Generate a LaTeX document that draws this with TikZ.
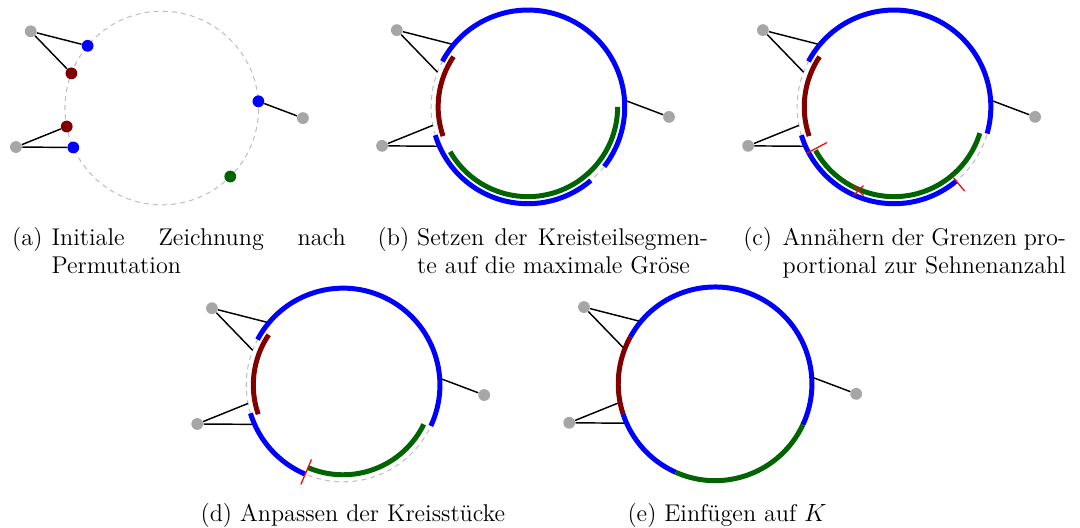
\documentclass[tikz,border=0pt]{standalone}
\usepackage{tikz}
\usetikzlibrary{arrows.meta}

\definecolor{segblue}{RGB}{0,0,255}
\definecolor{segred}{RGB}{128,0,0}
\definecolor{seggreen}{RGB}{0,100,0}

\begin{document}
\begin{tikzpicture}[scale=1.0,
  vtx/.style={circle, fill, inner sep=0pt, minimum size=0.2cm},
  hub/.style={vtx, black!35},
  kreis/.style={black!25, line width=0.5pt, dash pattern=on 2.4pt off 2pt},
  seg/.style={line width=2.4pt},
  sehne/.style={line width=0.7pt},
  grenze/.style={red, line width=0.6pt},
  capt/.style={anchor=base west, inner sep=0pt, font=\fontsize{11.66}{13.5}\selectfont}]
  \useasboundingbox (0,0) rectangle (18.29,8.94);

  % (a) initial drawing
  \begin{scope}[shift={(2.74,7.11)}]
    \draw[kreis] (0,0) circle (1.64);
    \node[hub] (a-g1) at (-2.22,1.30) {};
    \node[hub] (a-g2) at (-2.47,-0.66) {};
    \node[hub] (a-g3) at (2.39,-0.17) {};
    \node[vtx, segblue] (a-v1) at (140:1.64) {};
    \node[vtx, segred] (a-v2) at (159:1.64) {};
    \node[vtx, segred] (a-v3) at (191:1.64) {};
    \node[vtx, segblue] (a-v4) at (204:1.64) {};
    \node[vtx, segblue] (a-v5) at (4:1.64) {};
    \node[vtx, seggreen] (a-v6) at (315:1.64) {};
    \draw[sehne] (a-g1) -- (a-v1);
    \draw[sehne] (a-g1) -- (a-v2);
    \draw[sehne] (a-g2) -- (a-v3);
    \draw[sehne] (a-g2) -- (a-v4);
    \draw[sehne] (a-g3) -- (a-v5);
  \end{scope}
  \node[capt] (cap-a) at (0.20,4.79) {\makebox[19pt][l]{(a)}\parbox[t]{141.7pt}{\makebox[141.7pt][s]{Initiale Zeichnung nach}\\Permutation}};

  % (b) maximal segments
  \begin{scope}[shift={(8.94,7.13)}]
    \draw[kreis] (0,0) circle (1.64);
    \node[hub] (b-g1) at (-2.22,1.30) {};
    \node[hub] (b-g2) at (-2.47,-0.66) {};
    \node[hub] (b-g3) at (2.39,-0.17) {};
    \coordinate (b-v1) at (140:1.64);
    \coordinate (b-v2) at (159:1.64);
    \coordinate (b-v3) at (191:1.64);
    \coordinate (b-v4) at (204:1.64);
    \coordinate (b-v5) at (4:1.64);
    \draw[sehne] (b-g1) -- (b-v1);
    \draw[sehne] (b-g1) -- (b-v2);
    \draw[sehne] (b-g2) -- (b-v3);
    \draw[sehne] (b-g2) -- (b-v4);
    \draw[sehne] (b-g3) -- (b-v5);
    \draw[seg, segblue] (152:1.64) arc[start angle=152, end angle=-38, radius=1.64];
    \draw[seg, segblue] (197:1.64) arc[start angle=197, end angle=310.5, radius=1.64];
    \draw[seg, segred] (146:1.52) arc[start angle=146, end angle=199, radius=1.52];
    \draw[seg, seggreen] (210:1.52) arc[start angle=210, end angle=360, radius=1.52];
  \end{scope}
  \node[capt] (cap-b) at (6.39,4.79) {\makebox[19pt][l]{(b)}\parbox[t]{140.1pt}{\makebox[140.1pt][s]{Setzen der Kreisteilsegmen-}\\te auf die maximale Gröse}};

  % (c) proportional borders
  \begin{scope}[shift={(15.14,7.13)}]
    \draw[kreis] (0,0) circle (1.64);
    \node[hub] (c-g1) at (-2.22,1.30) {};
    \node[hub] (c-g2) at (-2.47,-0.66) {};
    \node[hub] (c-g3) at (2.39,-0.17) {};
    \coordinate (c-v1) at (140:1.64);
    \coordinate (c-v2) at (159:1.64);
    \coordinate (c-v3) at (191:1.64);
    \coordinate (c-v4) at (204:1.64);
    \coordinate (c-v5) at (4:1.64);
    \draw[sehne] (c-g1) -- (c-v1);
    \draw[sehne] (c-g1) -- (c-v2);
    \draw[sehne] (c-g2) -- (c-v3);
    \draw[sehne] (c-g2) -- (c-v4);
    \draw[sehne] (c-g3) -- (c-v5);
    \draw[seg, segblue] (152:1.64) arc[start angle=152, end angle=-16, radius=1.64];
    \draw[seg, segblue] (197:1.64) arc[start angle=197, end angle=310, radius=1.64];
    \draw[seg, segred] (146:1.52) arc[start angle=146, end angle=199, radius=1.52];
    \draw[seg, seggreen] (209:1.52) arc[start angle=209, end angle=343, radius=1.52];
    % new borders
    \draw[grenze] (208:1.29) -- (208:1.68);
    \draw[grenze] (310:1.57) -- (310:1.86);
    \draw[grenze, shift={(247:1.54)}] (-0.085,-0.085) -- (0.085,0.085) (-0.085,0.085) -- (0.085,-0.085);
  \end{scope}
  \node[capt] (cap-c) at (12.58,4.79) {\makebox[19pt][l]{(c)}\parbox[t]{136.5pt}{\makebox[136.5pt][s]{Annähern der Grenzen pro-}\\portional zur Sehnenanzahl}};

  % (d) adjusted pieces
  \begin{scope}[shift={(5.81,2.42)}]
    \draw[kreis] (0,0) circle (1.64);
    \node[hub] (d-g1) at (-2.22,1.30) {};
    \node[hub] (d-g2) at (-2.47,-0.66) {};
    \node[hub] (d-g3) at (2.39,-0.17) {};
    \coordinate (d-v1) at (140:1.64);
    \coordinate (d-v2) at (159:1.64);
    \coordinate (d-v3) at (191:1.64);
    \coordinate (d-v4) at (204:1.64);
    \coordinate (d-v5) at (4:1.64);
    \draw[sehne] (d-g1) -- (d-v1);
    \draw[sehne] (d-g1) -- (d-v2);
    \draw[sehne] (d-g2) -- (d-v3);
    \draw[sehne] (d-g2) -- (d-v4);
    \draw[sehne] (d-g3) -- (d-v5);
    \draw[seg, segblue] (152:1.64) arc[start angle=152, end angle=-25, radius=1.64];
    \draw[seg, segblue] (197:1.64) arc[start angle=197, end angle=247, radius=1.64];
    \draw[seg, segred] (146:1.52) arc[start angle=146, end angle=199, radius=1.52];
    \draw[seg, seggreen] (247:1.52) arc[start angle=247, end angle=334, radius=1.52];
    \draw[grenze] (247:1.37) -- (247:1.83);
  \end{scope}
  \node[capt] (cap-d) at (3.39,0.11) {(d)\ Anpassen der Kreisstücke};

  % (e) placed on K
  \begin{scope}[shift={(12.11,2.44)}]
    \node[hub] (e-g1) at (-2.22,1.30) {};
    \node[hub] (e-g2) at (-2.47,-0.66) {};
    \node[hub] (e-g3) at (2.39,-0.17) {};
    \coordinate (e-v1) at (140:1.64);
    \coordinate (e-v2) at (159:1.64);
    \coordinate (e-v3) at (191:1.64);
    \coordinate (e-v4) at (204:1.64);
    \coordinate (e-v5) at (4:1.64);
    \draw[sehne] (e-g1) -- (e-v1);
    \draw[sehne] (e-g1) -- (e-v2);
    \draw[sehne] (e-g2) -- (e-v3);
    \draw[sehne] (e-g2) -- (e-v4);
    \draw[sehne] (e-g3) -- (e-v5);
    \draw[seg, segblue] (151:1.64) arc[start angle=151, end angle=-25, radius=1.64];
    \draw[seg, segred] (151:1.64) arc[start angle=151, end angle=198, radius=1.64];
    \draw[seg, segblue] (198:1.64) arc[start angle=198, end angle=246, radius=1.64];
    \draw[seg, seggreen] (246:1.64) arc[start angle=246, end angle=335, radius=1.64];
  \end{scope}
  \node[capt] (cap-e) at (10.62,0.11) {(e)\ Einfügen auf $K$};
\end{tikzpicture}
\end{document}
